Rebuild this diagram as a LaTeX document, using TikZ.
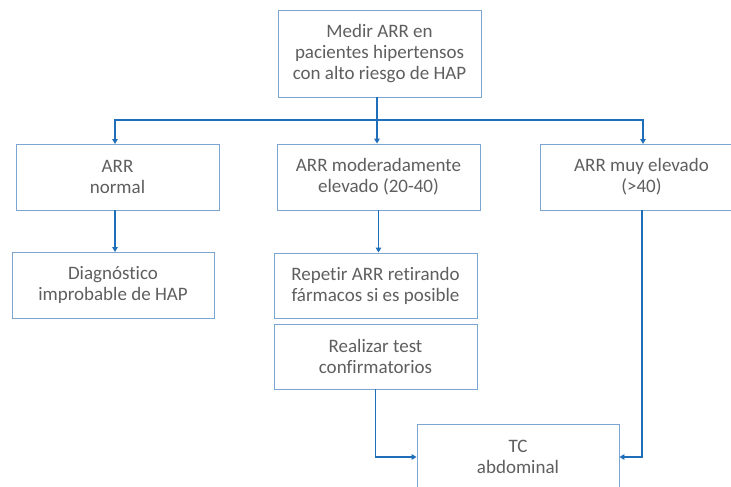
\documentclass[tikz,border=0pt]{standalone}
\usepackage{fontspec}
\setmainfont[Ligatures=CommonOff]{Carlito}
\usetikzlibrary{arrows.meta}
\definecolor{boxline}{RGB}{125,165,210}
\definecolor{arrblue}{RGB}{30,110,185}
\definecolor{txtgray}{RGB}{95,95,95}
\tikzset{
  flowbox/.style={draw=boxline, line width=0.9pt, fill=white, minimum width=203pt, minimum height=66pt,
    inner sep=2pt, align=center, text=txtgray, font=\fontsize{19}{21}\selectfont},
  arr/.style={draw=arrblue, line width=1.4pt, -{Triangle[width=5.5pt,length=5pt]}}
}
\begin{document}
\begin{tikzpicture}[x=1pt,y=-1pt]
\useasboundingbox (0,0) rectangle (731,487);
\clip (0,0) rectangle (731,487);
\node[flowbox, minimum height=87pt] (top) at (379.5,53.5) {Medir ARR en\\pacientes hipertensos\\con alto riesgo de HAP};
\node[flowbox] (normal) at (117.5,177) {ARR\\normal};
\node[flowbox, minimum width=202pt] (diag) at (113,285) {Diagnóstico\\improbable de HAP};
\node[flowbox] (mod) at (378.5,177) {ARR moderadamente\\elevado (20-40)};
\node[flowbox, minimum height=65pt] (rep) at (375.5,285.5) {Repetir ARR retirando\\fármacos si es posible};
\node[flowbox, minimum height=65pt] (real) at (375.5,356.5) {Realizar test\\confirmatorios};
\node[flowbox] (muy) at (641.5,177) {ARR muy elevado\\(>40)};
\node[flowbox, minimum width=202pt] (tc) at (518,457) {TC\\abdominal};
\coordinate (split) at (377,120);
\draw[arrblue, line width=1.4pt] (top.south -| split) -- (split);
\draw[arr] (split) -| (115,144);
\draw[arr] (split) -| (643,144);
\draw[arr] (split) -- (split |- mod.north);
\draw[arr] (115,210) -- (115,252);
\draw[arr] (mod.south) -- (mod.south |- rep.north);
\draw[arr] (real.south) |- (tc.west);
\draw[arr] (muy.south -| 642,0) |- (tc.east);
\end{tikzpicture}
\end{document}
